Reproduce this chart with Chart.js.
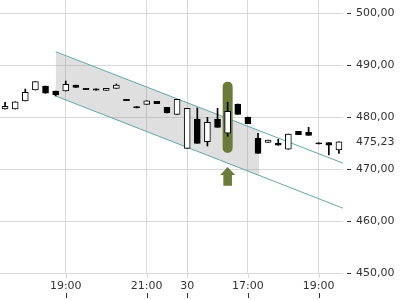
<!DOCTYPE html>
<html>
<head>
<meta charset="utf-8">
<script src="https://cdn.jsdelivr.net/npm/chart.js@4.4.1/dist/chart.umd.min.js"></script>
<style>
  body { margin: 0; background: #fff; }
</style>
</head>
<body>
<canvas id="chartKurs" width="400" height="300"></canvas>
<script>
// Kerzen (Index 0..33)
const opens  = [481.54, 481.54, 483.08, 485.19, 485.96, 485.00, 485.00, 486.15, 485.50, 485.42,
                485.13, 485.52, 483.40, 482.00, 482.44, 483.02, 481.87, 480.52, 473.98, 479.62,
                475.25, 479.62, 476.87, 482.50, 480.00, 475.90, 475.13, 474.94, 473.79, 477.25,
                477.06, 475.05, 475.06, 473.65];
const closes = [482.06, 482.94, 484.75, 486.79, 484.56, 484.23, 486.29, 485.71, 485.25, 485.17,
                485.52, 486.15, 483.13, 481.75, 483.13, 482.56, 480.77, 483.40, 481.67, 474.94,
                478.98, 478.02, 481.10, 480.52, 478.71, 473.02, 475.58, 474.56, 476.73, 476.60,
                476.48, 474.80, 474.56, 475.23];
const highs  = [482.83, 482.94, 485.38, 486.79, 485.96, 485.00, 486.92, 486.15, 485.50, 485.42,
                485.52, 486.35, 483.40, 482.00, 483.13, 483.02, 481.87, 483.40, 481.67, 481.73,
                479.94, 481.67, 482.83, 482.50, 480.00, 476.87, 475.58, 475.71, 476.73, 477.25,
                478.02, 475.05, 475.06, 475.23];
const lows   = [481.50, 481.54, 483.08, 485.19, 484.56, 484.04, 485.00, 485.71, 485.25, 485.17,
                485.13, 485.52, 483.13, 481.75, 482.44, 482.56, 480.77, 480.52, 473.98, 474.94,
                474.42, 478.02, 476.30, 480.52, 478.71, 473.02, 475.13, 474.56, 473.79, 476.60,
                476.48, 474.80, 472.69, 473.02];

const xTickPos = [6, 14, 18, 24, 31];
const xTickLabels = ["19:00", "21:00", "30", "17:00", "19:00"];
const yTicks = [450, 460, 470, 480, 490, 500];
const lastPrice = 475.23;

// Trendkanal
const channelTop    = [{ x: 5, y: 492.56 }, { x: 33.4, y: 471.12 }];
const channelBottom = [{ x: 5, y: 484.04 }, { x: 33.4, y: 462.46 }];
const bandTop       = [{ x: 5, y: 492.56 }, { x: 25.1, y: 477.38 }];
const bandBottom    = [{ x: 5, y: 484.04 }, { x: 25.1, y: 468.77 }];

// Markierung
const markIndex = 22;
const markRange = [473.1, 486.8];
const arrowRange = [466.8, 468.85, 470.4]; // Ende, Spitzenbasis, Spitze

const green = "#6b7c3a";
const gridColor = "#d9d9d9";

const fmt = v => v.toFixed(2).replace(".", ",");

const extras = {
  id: "extras",
  afterDatasetDraw(chart, args) {
    if (args.index !== 3) return;
    const { ctx, scales: { x, y } } = chart;
    const px = x.getPixelForValue(markIndex);
    const top = y.getPixelForValue(markRange[1]);
    const bot = y.getPixelForValue(markRange[0]);
    ctx.save();
    ctx.fillStyle = green;
    ctx.beginPath();
    ctx.roundRect(px - 5, top, 10, bot - top, 5);
    ctx.fill();
    ctx.restore();
  },
  afterDatasetsDraw(chart) {
    const { ctx, scales: { x, y } } = chart;
    const ax = x.getPixelForValue(markIndex);
    const end = y.getPixelForValue(arrowRange[0]);
    const base = y.getPixelForValue(arrowRange[1]);
    const tip = y.getPixelForValue(arrowRange[2]);
    ctx.save();
    ctx.fillStyle = green;
    ctx.beginPath();
    ctx.moveTo(ax, tip);
    ctx.lineTo(ax + 7.5, base);
    ctx.lineTo(ax + 4.3, base);
    ctx.lineTo(ax + 4.3, end);
    ctx.lineTo(ax - 4.3, end);
    ctx.lineTo(ax - 4.3, base);
    ctx.lineTo(ax - 7.5, base);
    ctx.closePath();
    ctx.fill();
    ctx.restore();
  },
  afterDraw(chart) {
    const { ctx, chartArea, scales: { x, y } } = chart;
    ctx.save();
    ctx.lineWidth = 1;
    x.ticks.forEach(t => {
      const px = Math.round(x.getPixelForValue(t.value)) + 0.5;
      ctx.strokeStyle = gridColor;
      ctx.beginPath();
      ctx.moveTo(px, chartArea.bottom);
      ctx.lineTo(px, chartArea.bottom + 5);
      ctx.stroke();
      ctx.strokeStyle = "#333";
      ctx.beginPath();
      ctx.moveTo(px, chartArea.bottom + 20);
      ctx.lineTo(px, chartArea.bottom + 25);
      ctx.stroke();
    });
    ctx.strokeStyle = "#333";
    y.ticks.forEach(t => {
      if (t.value === lastPrice) return;
      const py = Math.round(y.getPixelForValue(t.value)) + 0.5;
      ctx.beginPath();
      ctx.moveTo(chartArea.right + 4, py);
      ctx.lineTo(chartArea.right + 8, py);
      ctx.stroke();
    });
    ctx.restore();
  }
};

const idx = opens.map((_, i) => i);

new Chart(document.getElementById("chartKurs"), {
  type: "bar",
  data: {
    datasets: [
      {
        type: "line", data: bandTop, order: 6,
        borderWidth: 0, pointRadius: 0, fill: false
      },
      {
        type: "line", data: bandBottom, order: 5,
        borderWidth: 0, pointRadius: 0, fill: "-1",
        backgroundColor: "rgba(150,150,150,0.3)"
      },
      {
        type: "line", data: channelTop, order: 4,
        borderColor: "#5fa8ad", borderWidth: 1, pointRadius: 0, fill: false
      },
      {
        type: "line", data: channelBottom, order: 3,
        borderColor: "#5fa8ad", borderWidth: 1, pointRadius: 0, fill: false
      },
      {
        type: "bar", order: 2, grouped: false,
        data: idx.map(i => ({ x: i, y: [lows[i], highs[i]] })),
        backgroundColor: "#000", barThickness: 1
      },
      {
        type: "bar", order: 1, grouped: false,
        data: idx.map(i => ({ x: i, y: [opens[i], closes[i]] })),
        backgroundColor: idx.map(i => closes[i] >= opens[i] ? "#fff" : "#000"),
        borderColor: "#000", borderWidth: 1, borderSkipped: false,
        barThickness: 6
      }
    ]
  },
  options: {
    responsive: false,
    animation: false,
    events: [],
    layout: { padding: 0 },
    plugins: {
      legend: { display: false },
      tooltip: { enabled: false }
    },
    scales: {
      x: {
        type: "linear",
        min: -0.5,
        max: 33.4,
        offset: false,
        afterBuildTicks: s => { s.ticks = xTickPos.map(v => ({ value: v })); },
        afterFit: s => { s.height = 27; s.paddingLeft = 0; s.paddingRight = 0; },
        grid: { color: gridColor, offset: false, drawTicks: false },
        border: { display: false },
        ticks: {
          autoSkip: false, maxRotation: 0, padding: 7,
          color: "#333",
          font: { family: "DejaVu Sans", size: 11 },
          callback: (v, i) => xTickLabels[i]
        }
      },
      y: {
        position: "right",
        min: 450,
        max: 502.5,
        afterBuildTicks: s => { s.ticks = yTicks.concat([lastPrice]).map(v => ({ value: v })); },
        afterFit: s => { s.width = 57; s.paddingTop = 0; s.paddingBottom = 0; },
        grid: {
          color: c => (c.tick && c.tick.value === lastPrice) ? "rgba(0,0,0,0)" : gridColor,
          drawTicks: false
        },
        border: { display: false },
        ticks: {
          autoSkip: false, padding: 13,
          color: "#333",
          font: { family: "DejaVu Sans", size: 11 },
          callback: v => fmt(v)
        }
      }
    }
  },
  plugins: [extras]
});
</script>
</body>
</html>
